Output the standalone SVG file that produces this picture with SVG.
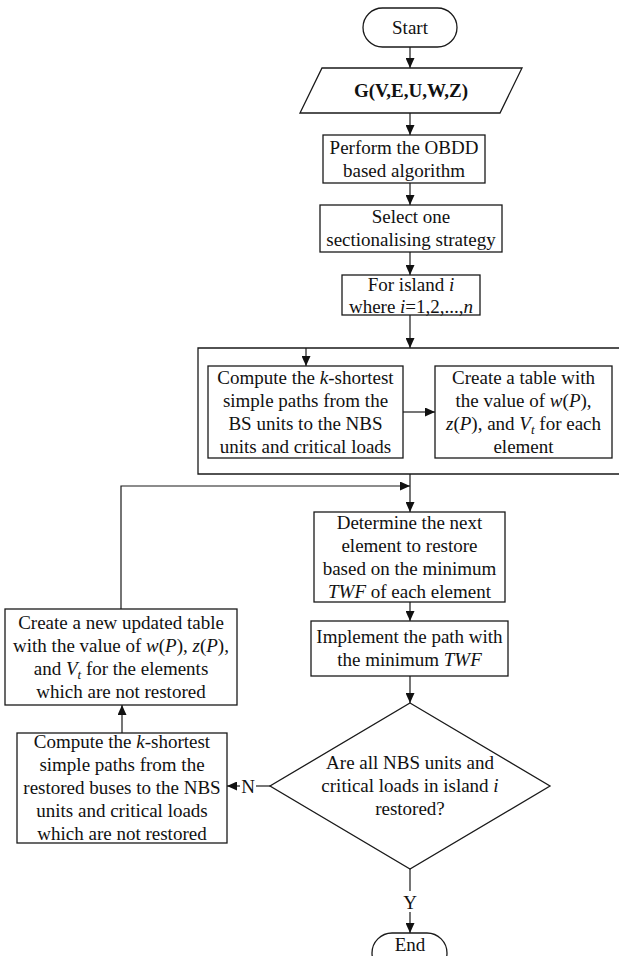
<svg xmlns="http://www.w3.org/2000/svg" width="619" height="956" viewBox="0 0 619 956">
<style>
.n{fill:#fff;stroke:#1a1a1a;stroke-width:1.3}
.c{fill:none;stroke:#1a1a1a;stroke-width:1.2}
text{font-family:"Liberation Serif","Times New Roman",serif;font-size:19px;fill:#111;text-anchor:middle}
.i{font-style:italic}
.b{font-weight:bold}
.s{font-size:13px;font-style:italic}
</style>
<defs>
<marker id="a" markerUnits="userSpaceOnUse" markerWidth="11" markerHeight="9" refX="10" refY="4.5" orient="auto">
<path d="M0,0 L10,4.5 L0,9 z" fill="#111"/>
</marker>
</defs>
<rect width="619" height="956" fill="#fff"/>
<g id="connectors">
<path class="c" d="M410,47 V68" marker-end="url(#a)"/>
<path class="c" d="M410,113 V135" marker-end="url(#a)"/>
<path class="c" d="M410,183 V205" marker-end="url(#a)"/>
<path class="c" d="M410,252 V275" marker-end="url(#a)"/>
<path class="c" d="M410,315 V348" marker-end="url(#a)"/>
<path class="c" d="M306,348 V366" marker-end="url(#a)"/>
<path class="c" d="M403,412 H435" marker-end="url(#a)"/>
<path class="c" d="M410,474 V512" marker-end="url(#a)"/>
<path class="c" d="M121,609 V486 H410" marker-end="url(#a)"/>
<path class="c" d="M410,602 V621" marker-end="url(#a)"/>
<path class="c" d="M410,676 V703" marker-end="url(#a)"/>
<path class="c" d="M410,869 V891"/>
<path class="c" d="M410,912 V933" marker-end="url(#a)"/>
<text x="410" y="909">Y</text>
<path class="c" d="M270,786 H256"/>
<path class="c" d="M240,786 H227" marker-end="url(#a)"/>
<text x="248" y="793">N</text>
<path class="c" d="M122,733 V705" marker-end="url(#a)"/>
</g>
<g id="start">
<rect class="n" x="363" y="8" width="94" height="39" rx="19.5"/>
<text x="410" y="34">Start</text>
</g>
<g id="input">
<polygon class="n" points="322,68 522,68 500,113 300,113"/>
<text class="b" x="411" y="97">G(V,E,U,W,Z)</text>
</g>
<g id="obdd">
<rect class="n" x="323" y="135" width="162" height="48"/>
<text x="404" y="153.5">Perform the OBDD</text>
<text x="404" y="176.5">based algorithm</text>
</g>
<g id="select">
<rect class="n" x="320" y="205" width="182" height="47"/>
<text x="411" y="223">Select one</text>
<text x="411" y="246">sectionalising strategy</text>
</g>
<g id="island">
<rect class="n" x="342" y="275" width="138" height="40"/>
<text x="411" y="290.5">For island <tspan class="i">i</tspan></text>
<text x="411" y="313">where <tspan class="i">i</tspan>=1,2,...,<tspan class="i">n</tspan></text>
</g>
<g id="group">
<path class="c" style="stroke-width:1.3" d="M622,348 H198 V474 H622"/>
</g>
<g id="kshortest">
<rect class="n" x="208" y="366" width="195" height="92"/>
<text x="305.5" y="384">Compute the <tspan class="i">k</tspan>-shortest</text>
<text x="305.5" y="407">simple paths from the</text>
<text x="305.5" y="430">BS units to the NBS</text>
<text x="305.5" y="453">units and critical loads</text>
</g>
<g id="table">
<rect class="n" x="435" y="366" width="177" height="92"/>
<text x="523.5" y="384">Create a table with</text>
<text x="523.5" y="407">the value of <tspan class="i">w</tspan>(<tspan class="i">P</tspan>),</text>
<text x="523.5" y="430"><tspan class="i">z</tspan>(<tspan class="i">P</tspan>), and <tspan class="i">V</tspan><tspan class="s" dy="4">t</tspan><tspan dy="-4"> for each</tspan></text>
<text x="523.5" y="453">element</text>
</g>
<g id="determine">
<rect class="n" x="314" y="512" width="191" height="90"/>
<text x="409.5" y="528.5">Determine the next</text>
<text x="409.5" y="551.5">element to restore</text>
<text x="409.5" y="574.5">based on the minimum</text>
<text x="409.5" y="597.5"><tspan class="i">TWF</tspan> of each element</text>
</g>
<g id="implement">
<rect class="n" x="311" y="621" width="197" height="55"/>
<text x="409.5" y="643">Implement the path with</text>
<text x="409.5" y="666">the minimum <tspan class="i">TWF</tspan></text>
</g>
<g id="decision">
<polygon class="n" points="410,703 550,786 410,869 270,786"/>
<text x="410" y="768.5">Are all NBS units and</text>
<text x="410" y="791.5">critical loads in island <tspan class="i">i</tspan></text>
<text x="410" y="814.5">restored?</text>
</g>
<g id="updated">
<rect class="n" x="5" y="609" width="232" height="96"/>
<text x="121" y="629">Create a new updated table</text>
<text x="121" y="652">with the value of <tspan class="i">w</tspan>(<tspan class="i">P</tspan>), <tspan class="i">z</tspan>(<tspan class="i">P</tspan>),</text>
<text x="121" y="675">and <tspan class="i">V</tspan><tspan class="s" dy="4">t</tspan><tspan dy="-4"> for the elements</tspan></text>
<text x="121" y="698">which are not restored</text>
</g>
<g id="recompute">
<rect class="n" x="17" y="733" width="210" height="110"/>
<text x="122" y="748">Compute the <tspan class="i">k</tspan>-shortest</text>
<text x="122" y="771">simple paths from the</text>
<text x="122" y="794">restored buses to the NBS</text>
<text x="122" y="817">units and critical loads</text>
<text x="122" y="840">which are not restored</text>
</g>
<g id="end">
<rect class="n" x="372" y="933" width="75" height="40" rx="20"/>
<text x="410" y="951">End</text>
</g>
</svg>
